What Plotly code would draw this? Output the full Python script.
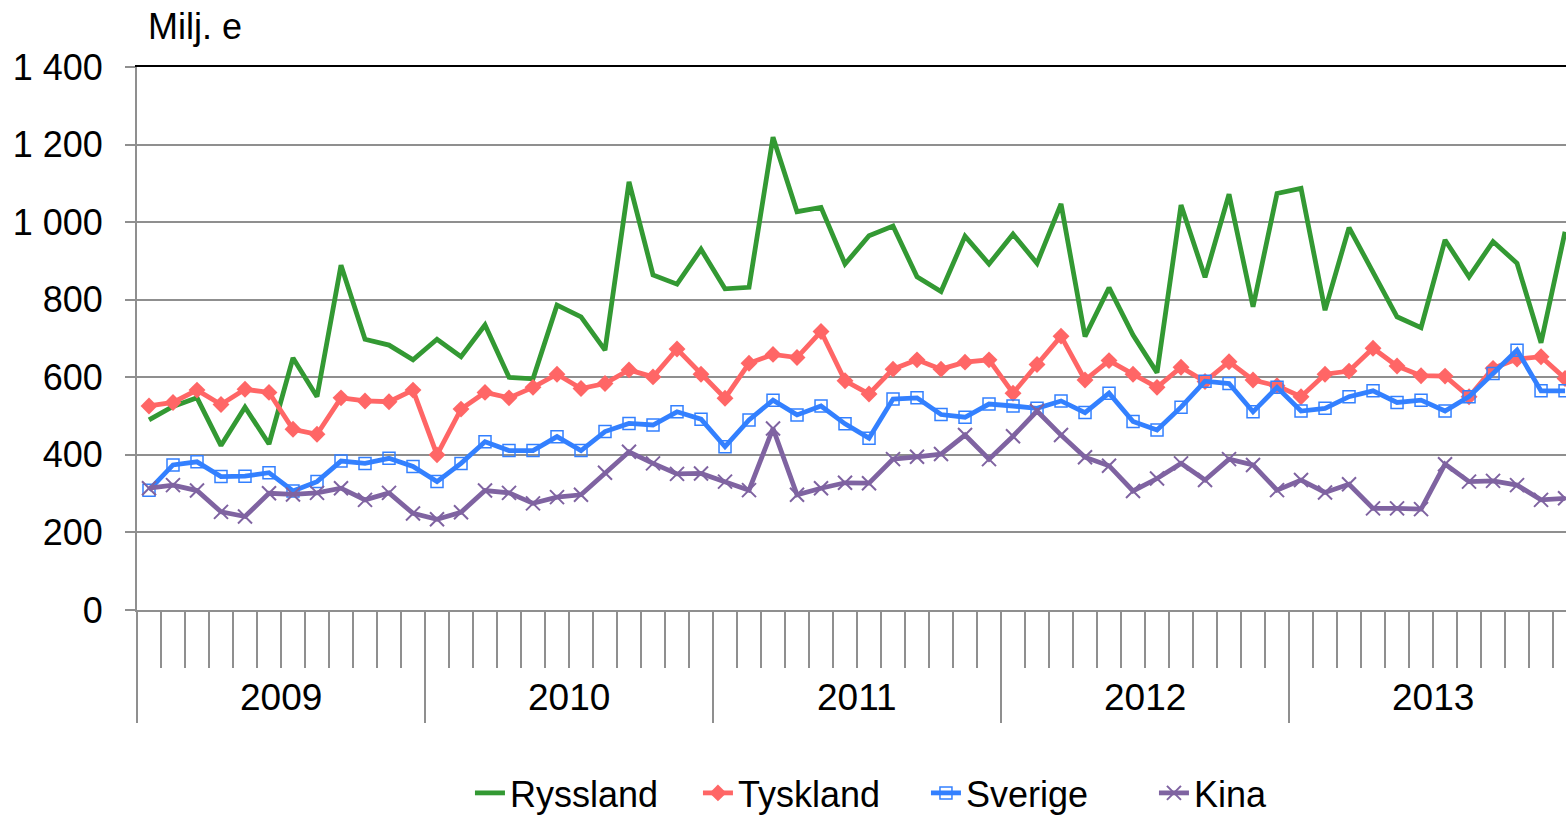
import plotly.graph_objects as go

# Monthly values, Jan 2009 - Dec 2013 (Milj. e)
years = ["2009", "2010", "2011", "2012", "2013"]
months = [f"{y}-{m:02d}" for y in years for m in range(1, 13)]

ryssland = [490, 525, 547, 424, 523, 428, 650, 550, 889, 698, 683, 645,
            698, 653, 735, 600, 596, 786, 756, 670, 1104, 864, 840, 930,
            828, 832, 1219, 1027, 1038, 892, 965, 990, 859, 821, 964, 892,
            969, 894, 1047, 705, 831, 709, 612, 1044, 858, 1072, 782, 1074,
            1087, 773, 986, 871, 756, 728, 954, 859, 950, 894, 689, 975]
tyskland = [526, 535, 567, 530, 569, 561, 466, 453, 547, 539, 537, 567,
            400, 518, 561, 547, 574, 608, 571, 584, 619, 601, 673, 608,
            546, 636, 659, 651, 718, 591, 557, 621, 645, 621, 639, 645,
            559, 633, 706, 593, 643, 608, 574, 626, 589, 640, 593, 578,
            550, 608, 616, 675, 629, 604, 603, 550, 623, 647, 653, 597]
sverige = [309, 374, 382, 344, 345, 354, 307, 331, 384, 378, 391, 370,
           331, 378, 434, 411, 411, 447, 411, 460, 481, 477, 511, 492,
           421, 490, 541, 503, 526, 480, 443, 544, 547, 504, 497, 531,
           526, 520, 539, 509, 559, 486, 464, 523, 590, 584, 511, 574,
           513, 520, 550, 565, 535, 541, 513, 550, 610, 670, 565, 565]
kina = [314, 322, 308, 253, 241, 301, 298, 302, 314, 284, 302, 249,
        234, 252, 308, 302, 275, 291, 297, 354, 408, 378, 351, 352,
        331, 309, 468, 297, 314, 328, 327, 389, 395, 402, 451, 389,
        448, 513, 451, 394, 372, 307, 339, 378, 335, 389, 374, 309,
        335, 303, 324, 262, 262, 260, 376, 331, 333, 322, 284, 288]

y_ticks = [0, 200, 400, 600, 800, 1000, 1200, 1400]

FONT = "Liberation Sans, Arial, sans-serif"
GRID = "#8f8f8f"
x = list(range(len(months)))
x_range = [-0.5, len(months) - 0.96]

fig = go.Figure()
fig.add_trace(go.Scatter(x=x, y=ryssland, name="Ryssland", mode="lines",
                         line=dict(color="#339933", width=4.8),
                         customdata=months))
fig.add_trace(go.Scatter(x=x, y=tyskland, name="Tyskland", mode="lines+markers",
                         line=dict(color="#ff6666", width=4.8),
                         marker=dict(symbol="diamond", size=13, color="#ff6666"),
                         customdata=months))
fig.add_trace(go.Scatter(x=x, y=sverige, name="Sverige", mode="lines+markers",
                         line=dict(color="#3380ff", width=4.8),
                         marker=dict(symbol="square-open", size=12, color="#3380ff",
                                     line=dict(width=1.5, color="#3380ff")),
                         customdata=months))
fig.add_trace(go.Scatter(x=x, y=kina, name="Kina", mode="lines+markers",
                         line=dict(color="#7f63a1", width=4.8),
                         marker=dict(symbol="x-thin-open", size=14, color="#7f63a1",
                                     line=dict(width=2, color="#7f63a1")),
                         customdata=months))

# month boundaries (short ticks) and year boundaries (long ticks)
month_edges = [i - 0.5 for i in range(len(months))]
year_edges = [i * 12 - 0.5 for i in range(len(years))]

fig.update_layout(
    width=1566, height=815,
    margin=dict(l=137, r=0, t=67, b=205, autoexpand=False),
    paper_bgcolor="white", plot_bgcolor="white",
    font=dict(family=FONT, size=36, color="black"),
    separators=", ",
    showlegend=True,
    legend=dict(orientation="h", x=0.233, xanchor="left", y=-0.337, yanchor="middle",
                font=dict(size=36), entrywidth=183, entrywidthmode="pixels",
                tracegroupgap=0),
    xaxis=dict(range=x_range, tickmode="array", tickvals=month_edges,
               ticks="outside", ticklen=56, tickwidth=1.5, tickcolor=GRID,
               showticklabels=False, showgrid=False, zeroline=False,
               showline=True, linecolor=GRID, linewidth=2),
    xaxis2=dict(overlaying="x", side="top", range=x_range, anchor="y",
                showline=True, linecolor="black", linewidth=2,
                showticklabels=False, ticks="", showgrid=False, zeroline=False),
    xaxis3=dict(overlaying="x", range=x_range, anchor="y", tickmode="array",
                tickvals=year_edges, ticks="outside", ticklen=112, tickwidth=1.5,
                tickcolor=GRID, showticklabels=False, showgrid=False,
                zeroline=False, showline=False),
    yaxis=dict(range=[0, 1400], tickmode="array", tickvals=y_ticks,
               separatethousands=True, ticks="outside", ticklen=10, tickwidth=1.5,
               tickcolor=GRID, showline=True, linecolor=GRID, linewidth=2,
               showgrid=True, gridcolor=GRID, gridwidth=1.5, zeroline=False,
               ticklabelstandoff=15, tickfont=dict(size=36)),
)

# invisible traces to activate the overlay axes
fig.add_trace(go.Scatter(x=[None], y=[None], xaxis="x2", showlegend=False, hoverinfo="skip"))
fig.add_trace(go.Scatter(x=[None], y=[None], xaxis="x3", showlegend=False, hoverinfo="skip"))

# year labels centred under each block of twelve months
for k, yr in enumerate(years):
    fig.add_annotation(x=k * 12 + 5.5, xref="x", y=-0.162, yref="paper",
                       text=yr, showarrow=False, xanchor="center", yanchor="middle",
                       font=dict(size=37))

fig.add_annotation(x=0, xref="paper", y=1, yref="paper", xshift=9, yshift=41,
                   text="Milj. e", showarrow=False, xanchor="left", yanchor="middle",
                   font=dict(size=36))

fig.write_html("out.html")
